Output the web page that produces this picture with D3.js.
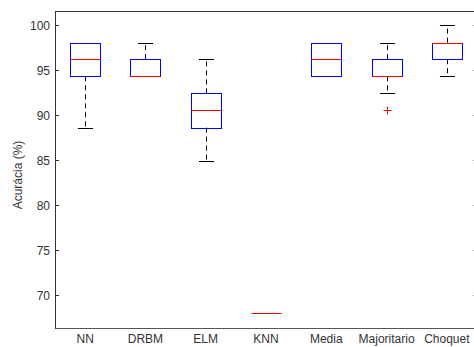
<!DOCTYPE html>
<html>
<head>
<meta charset="utf-8">
<script src="https://cdn.jsdelivr.net/npm/d3@7"></script>
<style>
  body { margin: 0; background: #fff; }
  text { font-family: "Liberation Sans", Arial, sans-serif; font-size: 12px; fill: #333; }
</style>
</head>
<body>
<div id="chart"></div>
<script>
// ___________________________Box plot data_______________________________
const categories = ["NN", "DRBM", "ELM", "KNN", "Media", "Majoritario", "Choquet"];
const lowerWhisker = [88.6, 94.3, 84.9, 68.0, 94.3, 92.4, 94.3];
const q1 = [94.3, 94.3, 88.6, 68.0, 94.3, 94.3, 96.2];
const medians = [96.2, 94.3, 90.55, 68.0, 96.2, 94.3, 98.05];
const q3 = [98.05, 96.2, 92.4, 68.0, 98.05, 96.2, 98.05];
const upperWhisker = [98.05, 98.05, 96.2, 68.0, 98.05, 98.05, 100];
const outliers = [[], [], [], [], [], [90.55], []];
const yTicks = [70, 75, 80, 85, 90, 95, 100];

const width = 474, height = 347;
const margin = { top: 11, left: 55, bottom: 19 };
const plotRight = 477; // right axis sits just outside the window

const svg = d3.select("#chart")
    .append("svg")
    .attr("width", width)
    .attr("height", height);

svg.append("rect").attr("width", width).attr("height", height).attr("fill", "#fff");

// Scales
const xScale = d3.scaleLinear()
    .domain([0.5, categories.length + 0.5])
    .range([margin.left, plotRight]);

const yScale = d3.scaleLinear()
    .domain([66.33, 101.56])
    .range([height - margin.bottom, margin.top]);

const step = xScale(2) - xScale(1);
const boxW = step * 0.5;
const capW = step * 0.25;

const snap = v => Math.round(v) + 0.5;

// Axes frame
const yBottom = snap(yScale.range()[0]);
const yTop = snap(yScale.range()[1]);
svg.append("line").attr("x1", margin.left).attr("x2", width).attr("y1", yTop).attr("y2", yTop)
    .attr("stroke", "#333");
svg.append("line").attr("x1", margin.left).attr("x2", width).attr("y1", yBottom).attr("y2", yBottom)
    .attr("stroke", "#555");
svg.append("line").attr("x1", margin.left + 0.5).attr("x2", margin.left + 0.5)
    .attr("y1", yTop).attr("y2", yBottom).attr("stroke", "#333");

// Y ticks (inward) and labels
const yAxis = svg.append("g").attr("class", "y axis");
yTicks.forEach(t => {
    const y = snap(yScale(t));
    yAxis.append("line").attr("x1", margin.left).attr("x2", margin.left + 4)
        .attr("y1", y).attr("y2", y).attr("stroke", "#333");
    yAxis.append("line").attr("x1", plotRight - 4).attr("x2", plotRight)
        .attr("y1", y).attr("y2", y).attr("stroke", "#999");
    yAxis.append("text")
        .attr("x", margin.left - 5)
        .attr("y", y)
        .attr("dy", "0.35em")
        .style("text-anchor", "end")
        .text(t);
});

// Y axis title
svg.append("text")
    .attr("transform", "translate(18,175) rotate(-90)")
    .attr("dy", "0.35em")
    .style("text-anchor", "middle")
    .text("Acurácia (%)");

// X labels
categories.forEach((c, i) => {
    svg.append("text")
        .attr("x", xScale(i + 1))
        .attr("y", 343)
        .style("text-anchor", "middle")
        .text(c);
});

// Boxes
categories.forEach((c, i) => {
    const cx = snap(xScale(i + 1));
    const g = svg.append("g").attr("class", "box");

    // upper whisker
    if (upperWhisker[i] > q3[i]) {
        g.append("line").attr("x1", cx).attr("x2", cx)
            .attr("y1", yScale(q3[i])).attr("y2", yScale(upperWhisker[i]))
            .attr("stroke", "#000").attr("stroke-dasharray", "5,4");
        g.append("line").attr("x1", cx - capW / 2).attr("x2", cx + capW / 2)
            .attr("y1", snap(yScale(upperWhisker[i]))).attr("y2", snap(yScale(upperWhisker[i])))
            .attr("stroke", "#000");
    }
    // lower whisker
    if (lowerWhisker[i] < q1[i]) {
        g.append("line").attr("x1", cx).attr("x2", cx)
            .attr("y1", yScale(q1[i])).attr("y2", yScale(lowerWhisker[i]))
            .attr("stroke", "#000").attr("stroke-dasharray", "5,4");
        g.append("line").attr("x1", cx - capW / 2).attr("x2", cx + capW / 2)
            .attr("y1", snap(yScale(lowerWhisker[i]))).attr("y2", snap(yScale(lowerWhisker[i])))
            .attr("stroke", "#000");
    }

    // box
    const top = snap(yScale(q3[i]));
    const bot = snap(yScale(q1[i]));
    g.append("rect")
        .attr("x", snap(cx - boxW / 2))
        .attr("y", top)
        .attr("width", Math.round(boxW))
        .attr("height", bot - top)
        .attr("fill", "none")
        .attr("stroke", "#0000ff");

    // median
    const my = snap(yScale(medians[i]));
    g.append("line")
        .attr("x1", snap(cx - boxW / 2)).attr("x2", snap(cx - boxW / 2) + Math.round(boxW))
        .attr("y1", my).attr("y2", my)
        .attr("stroke", "#ff0000");

    // outliers
    outliers[i].forEach(v => {
        const oy = snap(yScale(v));
        g.append("path")
            .attr("d", `M${cx - 4},${oy}H${cx + 4}M${cx},${oy - 4}V${oy + 4}`)
            .attr("stroke", "#ff0000");
    });
});
</script>
</body>
</html>
